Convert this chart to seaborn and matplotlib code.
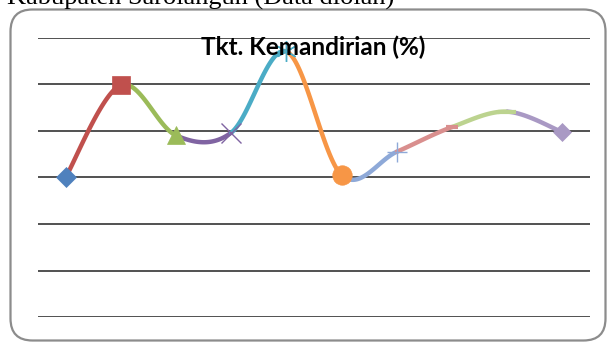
import numpy as np
import matplotlib
matplotlib.use("Agg")
import matplotlib.pyplot as plt
import seaborn as sns
from matplotlib.patches import FancyBboxPatch
from matplotlib.transforms import IdentityTransform

# ---- data ----
categories = ["1", "2", "3", "4", "5", "6", "7", "8", "9", "10"]
values = [30.0, 49.8, 39.0, 39.6, 57.0, 30.5, 35.5, 40.8, 44.1, 39.7]
point_colors = ["#4F81BD", "#C0504D", "#9BBB59", "#8064A2", "#4BACC6",
                "#F79646", "#8EA9D8", "#D98F8E", "#BCD38F", "#A999C4"]
y_ticks = [0, 10, 20, 30, 40, 50, 60]
title = "Tkt. Kemandirian (%)"
caption = "Kabupaten Sarolangun (Data diolah)"

sns.set_theme(style="white")
plt.rcParams["font.family"] = ["DejaVu Sans"]

W, H = 608, 344
fig = plt.figure(figsize=(W / 100, H / 100), dpi=100)
fig.patch.set_facecolor("white")

# rounded chart frame (pixel coordinates)
frame = FancyBboxPatch((10.5, 3.5), 595, 331, boxstyle="round,pad=0,rounding_size=22",
                       transform=IdentityTransform(), facecolor="white",
                       edgecolor="#8c8c8c", linewidth=1.6, zorder=0)
fig.add_artist(frame)

left, right = 38 / W, 590 / W
bottom, top = 1 - 317.3 / H, 1 - 37.5 / H
ax = fig.add_axes([left, bottom, right - left, top - bottom])
ax.set_facecolor("none")

x = np.arange(len(categories), dtype=float)
y = np.array(values, dtype=float)

# gridlines
for t in y_ticks:
    ax.axhline(t, color="#333333", lw=1.2, zorder=1)

# Excel-like smoothed segments (Catmull-Rom bezier)
pts = np.column_stack([x, y])
n = len(pts)
tt = np.linspace(0, 1, 60)
for i in range(n - 1):
    p0 = pts[i - 1] if i > 0 else pts[i]
    p1 = pts[i]
    p2 = pts[i + 1]
    p3 = pts[i + 2] if i + 2 < n else pts[i + 1]
    c1 = p1 + (p2 - p0) / 6.0
    c2 = p2 - (p3 - p1) / 6.0
    b = ((1 - tt) ** 3)[:, None] * p1 + (3 * (1 - tt) ** 2 * tt)[:, None] * c1 \
        + (3 * (1 - tt) * tt ** 2)[:, None] * c2 + (tt ** 3)[:, None] * p2
    sns.lineplot(x=b[:, 0], y=b[:, 1], sort=False, estimator=None, ax=ax,
                 color=point_colors[i + 1], lw=3.2, zorder=2)

markers = ["D", "s", "^", "x", (6, 2, 0), "o", "+", "_", "_", "D"]
sizes = [10, 13.5, 13, 14, 15, 14, 14, 9, 13, 9]
edge_w = [0.5, 0.5, 0.5, 1.0, 1.0, 0.5, 1.0, 3.0, 3.0, 0.5]
for i in range(n):
    ax.plot(x[i], y[i], marker=markers[i], ms=sizes[i], color=point_colors[i],
            mec=point_colors[i], mew=edge_w[i], ls="none", zorder=3)

ax.set_xlim(-0.5, n - 0.5)
ax.set_ylim(y_ticks[0], y_ticks[-1])
ax.set_xticks([])
ax.set_yticks([])
for s in ax.spines.values():
    s.set_visible(False)

fig.text(313 / W, 1 - 55 / H, title, ha="center", va="baseline",
         fontsize=17.5, fontweight="bold", family=["Lato", "DejaVu Sans"], color="#000000",
         zorder=5)
fig.text(7 / W, 1 - 5 / H, caption, ha="left", va="baseline",
         fontsize=19, family=["Liberation Serif", "DejaVu Serif"], color="#000000")

fig.savefig("out.png", dpi=100, facecolor="white")
